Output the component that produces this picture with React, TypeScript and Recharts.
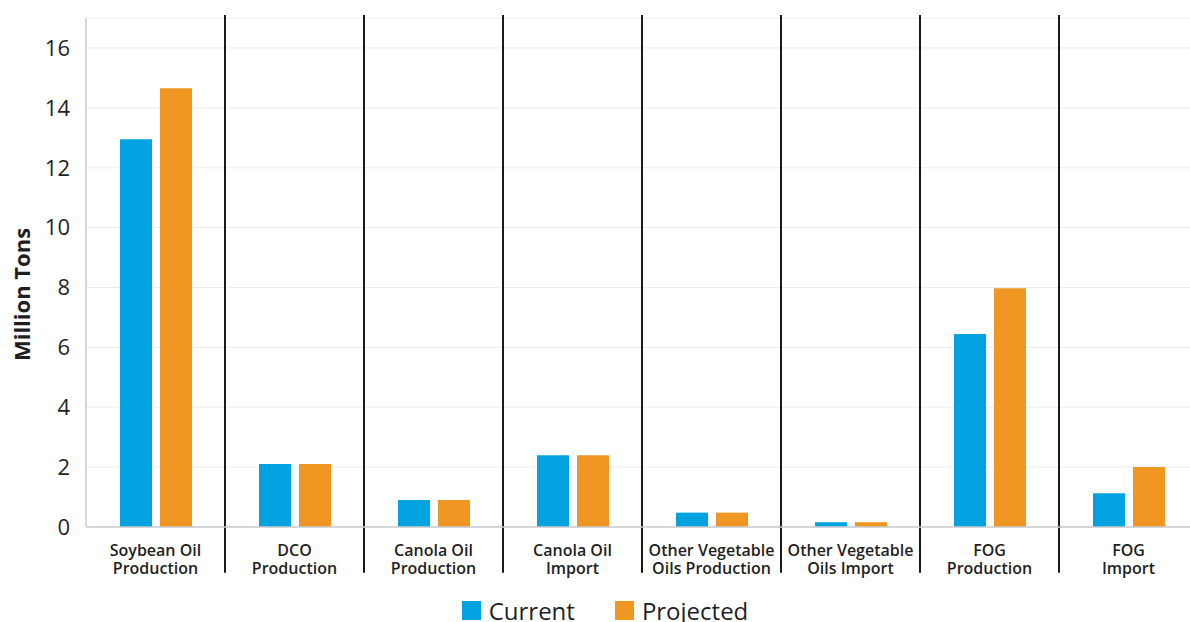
import {
  Bar,
  BarChart,
  CartesianGrid,
  Legend,
  ReferenceLine,
  XAxis,
  YAxis,
} from "recharts";

const categories = [
  "Soybean Oil\nProduction",
  "DCO\nProduction",
  "Canola Oil\nProduction",
  "Canola Oil\nImport",
  "Other Vegetable\nOils Production",
  "Other Vegetable\nOils Import",
  "FOG\nProduction",
  "FOG\nImport",
];
const current = [12.95, 2.1, 0.9, 2.4, 0.48, 0.16, 6.45, 1.13];
const projected = [14.65, 2.1, 0.9, 2.4, 0.48, 0.16, 7.97, 2.0];
const yTicks = [0, 2, 4, 6, 8, 10, 12, 14, 16];

const BLUE = "#00a3e0";
const ORANGE = "#ef9623";
const FONT = "'Open Sans', sans-serif";

const data = categories.map((name, i) => ({
  name,
  current: current[i],
  projected: projected[i],
}));

function CategoryTick({ x, y, payload }: any) {
  const lines = String(payload.value).split("\n");
  return (
    <text
      x={x}
      y={y}
      textAnchor="middle"
      fontFamily={FONT}
      fontWeight={600}
      fontSize={16}
      fill="#1f1f1f"
    >
      {lines.map((l, i) => (
        <tspan key={i} x={x} dy={i === 0 ? 21 : 18}>
          {l}
        </tspan>
      ))}
    </text>
  );
}

function YLabel({ viewBox }: any) {
  const cx = viewBox.x + 30;
  const cy = viewBox.y + viewBox.height / 2 + 22;
  return (
    <text
      x={cx}
      y={cy}
      transform={`rotate(-90, ${cx}, ${cy})`}
      textAnchor="middle"
      fontFamily={FONT}
      fontWeight={700}
      fontSize={22}
      fill="#1f1f1f"
    >
      Million Tons
    </text>
  );
}

function LegendContent({ payload }: any) {
  return (
    <div
      style={{
        height: 40,
        display: "flex",
        justifyContent: "center",
        alignItems: "center",
        gap: 40,
        fontFamily: FONT,
        fontSize: 24,
        color: "#1f1f1f",
        paddingTop: 16,
        paddingLeft: 12,
        boxSizing: "border-box",
      }}
    >
      {(payload || []).map((p: any) => (
        <div key={p.value} style={{ display: "flex", alignItems: "center" }}>
          <span
            style={{
              display: "inline-block",
              width: 19,
              height: 19,
              background: p.color,
              marginRight: 8,
            }}
          />
          {p.value}
        </div>
      ))}
    </div>
  );
}

export default function App() {
  return (
    <div
      style={{
        position: "absolute",
        left: 0,
        top: 0,
        width: 1190,
        height: 622,
        overflow: "hidden",
        background: "#fff",
      }}
    >
      <BarChart
        width={1200}
        height={622}
        data={data}
        margin={{ top: 18, right: 2, left: 0, bottom: 0 }}
        barCategoryGap="24%"
        barGap={8}
      >
        <CartesianGrid vertical={false} stroke="#ececec" />
        <XAxis
          dataKey="name"
          interval={0}
          height={55}
          tickLine={false}
          axisLine={{ stroke: "#c8cdd0", strokeWidth: 1.5 }}
          tick={<CategoryTick />}
        />
        <YAxis
          width={86}
          domain={[0, 17]}
          ticks={yTicks}
          tickLine={false}
          tickMargin={10}
          axisLine={{ stroke: "#c8cdd0", strokeWidth: 1.5 }}
          tick={{ fontFamily: FONT, fontSize: 22, fill: "#1f1f1f" }}
          label={<YLabel />}
        />
        <Legend verticalAlign="bottom" content={<LegendContent />} />
        <Bar
          dataKey="current"
          name="Current"
          fill={BLUE}
          barSize={32}
          isAnimationActive={false}
        />
        <Bar
          dataKey="projected"
          name="Projected"
          fill={ORANGE}
          barSize={32}
          isAnimationActive={false}
        />
        {categories.slice(1).map((c) => (
          <ReferenceLine
            key={c}
            position="start"
            ifOverflow="visible"
            segment={[
              { x: c, y: 17.1 },
              { x: c, y: -1.53 },
            ]}
            stroke="#1a1a1a"
            strokeWidth={2}
          />
        ))}
      </BarChart>
    </div>
  );
}
